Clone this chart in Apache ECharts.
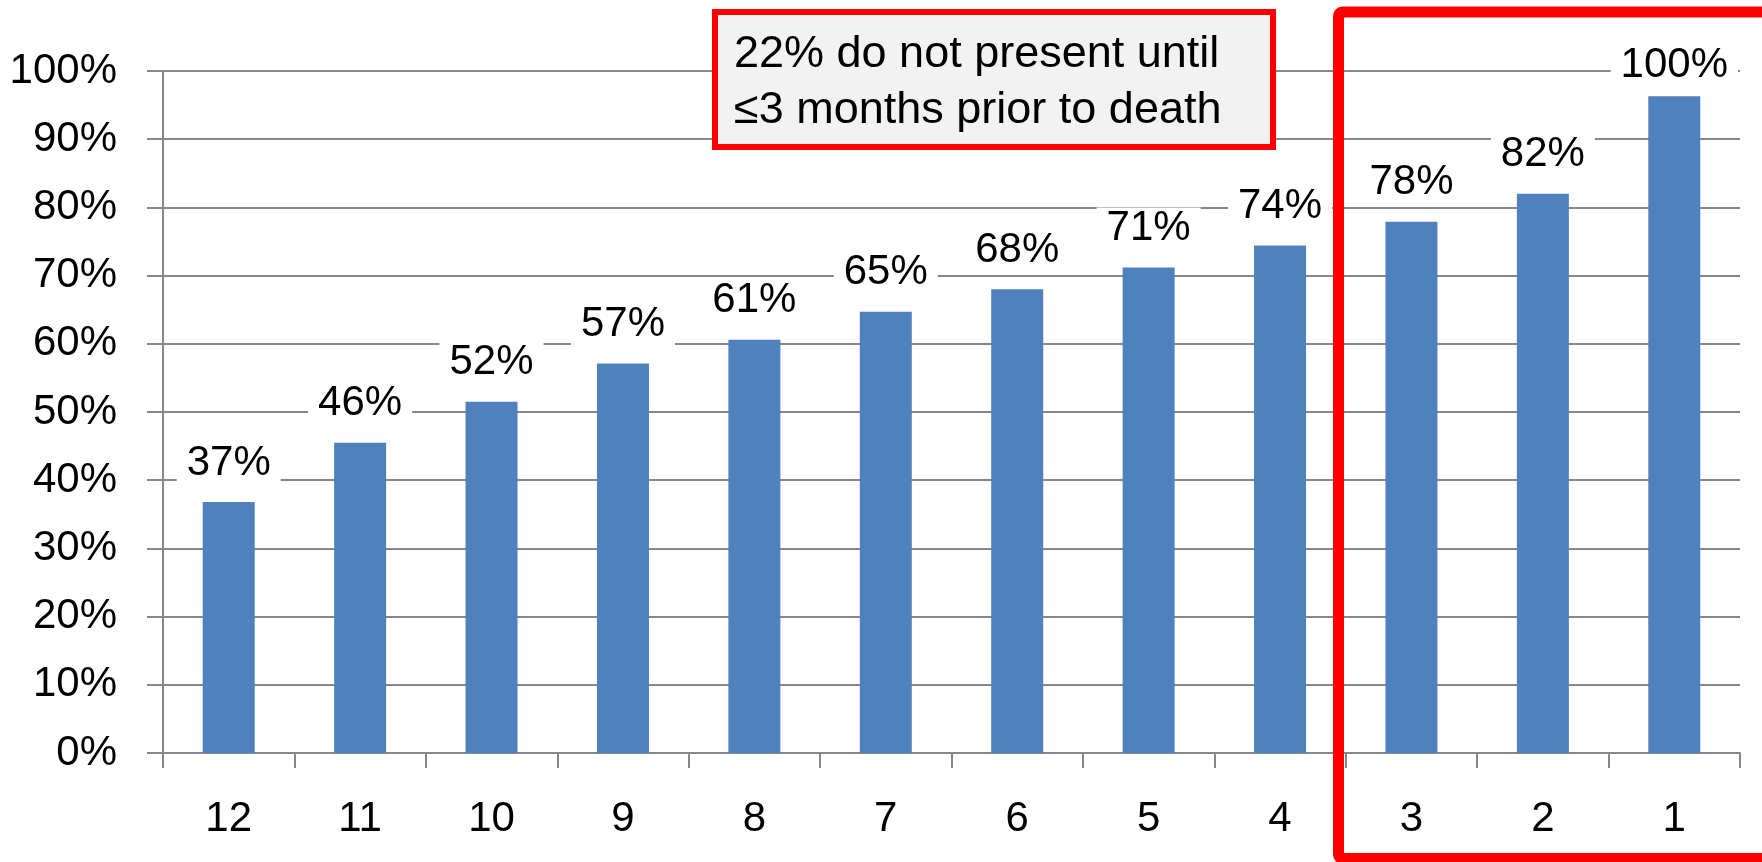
<!DOCTYPE html>
<html><head><meta charset="utf-8">
<script src="https://cdn.jsdelivr.net/npm/echarts@6/dist/echarts.min.js"></script>
<style>html,body{margin:0;padding:0;background:#fff}#c{width:1762px;height:862px}</style>
</head><body><div id="c"></div>
<script>
const categories = ['12','11','10','9','8','7','6','5','4','3','2','1'];
const values = [36.8, 45.5, 51.5, 57.1, 60.6, 64.7, 68.0, 71.2, 74.4, 77.9, 82.0, 96.3];
const valueLabels = ['37%','46%','52%','57%','61%','65%','68%','71%','74%','78%','82%','100%'];
const noteLines = ['22% do not present until', '\u22643 months prior to death'];

const FONT = 'Liberation Sans';
const FS = 42;
const GRID = '#878787';

const chart = echarts.init(document.getElementById('c'), null, {renderer: 'canvas'});
const seriesData = values.map((v, i) => {
  const item = {value: v};
  if (i === values.length - 1) item.label = {distance: 10};
  return item;
});

chart.setOption({
  animation: false,
  backgroundColor: '#ffffff',
  grid: {left: 163, right: 22, top: 71, bottom: 109, containLabel: false},
  xAxis: {
    type: 'category',
    data: categories,
    boundaryGap: true,
    axisLine: {show: true, lineStyle: {color: GRID, width: 2}},
    axisTick: {show: true, length: 15, alignWithLabel: false, lineStyle: {color: GRID, width: 2}},
    axisLabel: {color: '#000', fontFamily: FONT, fontSize: FS, margin: 45, interval: 0},
    splitLine: {show: false}
  },
  yAxis: {
    type: 'value',
    min: 0, max: 100, interval: 10,
    axisLine: {show: true, lineStyle: {color: GRID, width: 2}},
    axisTick: {show: true, length: 16, lineStyle: {color: GRID, width: 2}},
    axisLabel: {color: '#000', fontFamily: FONT, fontSize: FS, margin: 46, formatter: '{value}%'},
    splitLine: {show: true, lineStyle: {color: GRID, width: 2}}
  },
  series: [{
    type: 'bar',
    data: seriesData,
    barWidth: 52,
    itemStyle: {color: '#4f81bd'},
    label: {
      show: true,
      position: 'top',
      distance: 18,
      color: '#000',
      fontFamily: FONT,
      fontSize: FS,
      backgroundColor: '#ffffff',
      padding: [0, 10],
      formatter: p => valueLabels[p.dataIndex]
    }
  }],
  graphic: [
    {
      type: 'rect', z: 100,
      shape: {x: 715, y: 12, width: 558, height: 135},
      style: {fill: '#f2f2f2', stroke: '#ff0000', lineWidth: 6}
    },
    {
      type: 'text', z: 101,
      style: {
        x: 734, y: 83,
        text: noteLines.join('\n'),
        fontFamily: FONT, fontSize: 45, lineHeight: 56,
        fill: '#000', align: 'left', verticalAlign: 'middle'
      }
    },
    {
      type: 'rect', z: 100,
      shape: {x: 1338.5, y: 12, width: 440, height: 846.5, r: 4},
      style: {fill: 'none', stroke: '#ff0000', lineWidth: 11}
    }
  ]
});
</script>
</body></html>
